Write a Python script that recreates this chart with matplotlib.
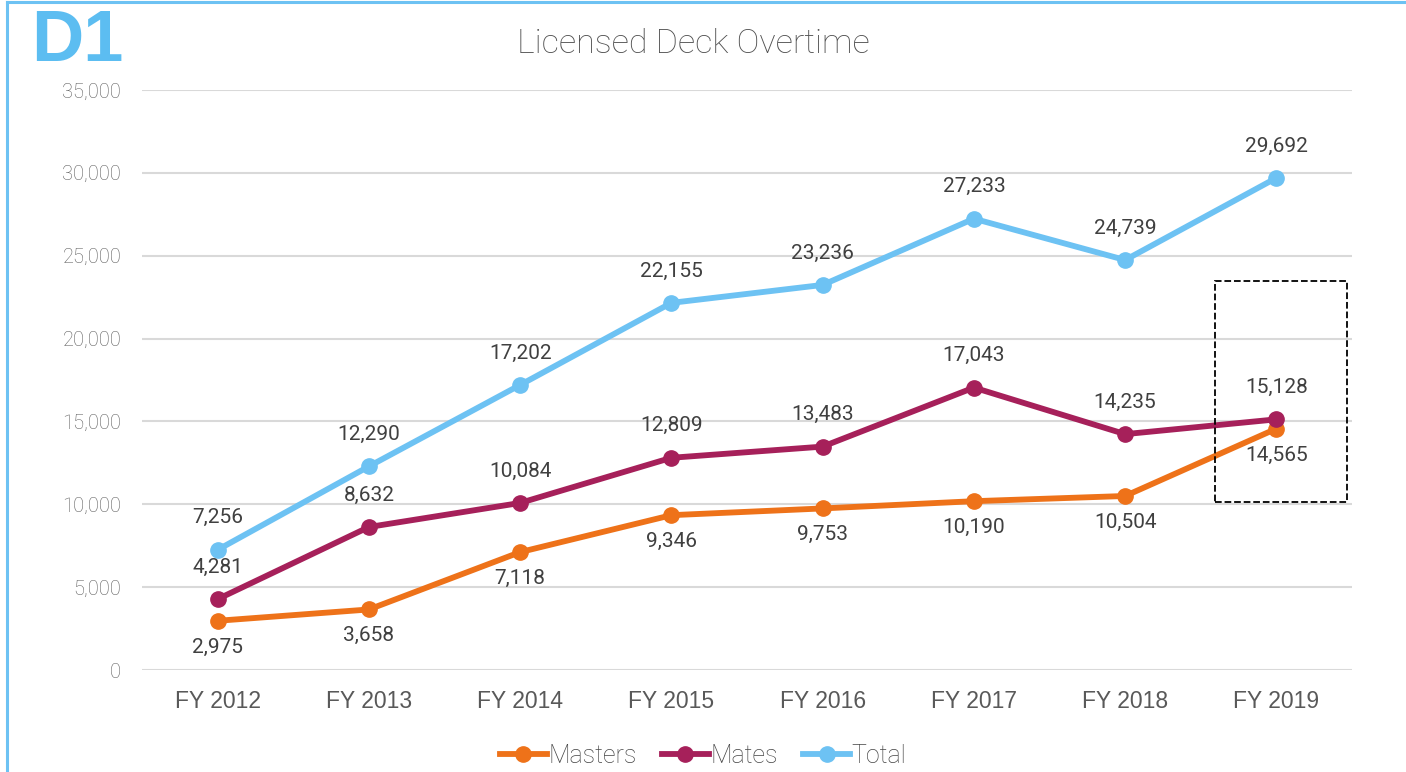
import matplotlib
matplotlib.use('Agg')
import matplotlib.pyplot as plt
from matplotlib.patches import Rectangle
from matplotlib.ticker import FuncFormatter

years = ['FY 2012', 'FY 2013', 'FY 2014', 'FY 2015', 'FY 2016', 'FY 2017', 'FY 2018', 'FY 2019']
masters = [2975, 3658, 7118, 9346, 9753, 10190, 10504, 14565]
mates = [4281, 8632, 10084, 12809, 13483, 17043, 14235, 15128]
total = [7256, 12290, 17202, 22155, 23236, 27233, 24739, 29692]

c_masters = '#EE7219'
c_mates = '#A6205A'
c_total = '#6DC2F3'
light = dict(family='Roboto', fontweight='light')

fig = plt.figure(figsize=(14.06, 7.72), dpi=100)
ax = fig.add_axes([0.101, 0.132, 0.8606, 0.7515])
x = list(range(len(years)))

# lines
for vals, col, name in [(masters, c_masters, 'Masters'), (mates, c_mates, 'Mates'), (total, c_total, 'Total')]:
    ax.plot(x, vals, color=col, lw=4.2, marker='o', ms=11, label=name, zorder=3)

# data labels
lab = dict(ha='center', va='center', fontsize=15, color='#404040', textcoords='offset points',
           family='Roboto', fontweight='normal')
for i in x:
    ax.annotate(f'{total[i]:,}', (i, total[i]), xytext=(0, 23), **lab)
    ax.annotate(f'{mates[i]:,}', (i, mates[i]), xytext=(0, 23), **lab)
    ax.annotate(f'{masters[i]:,}', (i, masters[i]), xytext=(0, -19), **lab)

# dashed box around last year
ax.add_patch(Rectangle((6.594, 10140), 0.873, 13330, fill=False, ls='--', lw=1.3,
                       edgecolor='black', zorder=4))

ax.set_xlim(-0.5, 7.5)
ax.set_ylim(0, 35000)
ax.set_yticks(range(0, 35001, 5000))
ax.yaxis.set_major_formatter(FuncFormatter(lambda v, p: f'{int(v):,}'))
ax.set_xticks(x)
ax.set_xticklabels(years, fontsize=16.5, color='#595959', family='Liberation Sans')
for t in ax.get_yticklabels():
    t.set_fontsize(14.5)
    t.set_color('#5E5E5E')
    t.set_family('Roboto')
    t.set_fontweight('light')
ax.tick_params(length=0, axis='y', pad=15)
ax.tick_params(length=0, axis='x', pad=14)
ax.grid(axis='y', color='#D9D9D9', lw=1.5)
ax.set_axisbelow(True)
for s in ax.spines.values():
    s.set_visible(False)

fig.text(0.493, 0.943, 'Licensed Deck Overtime', ha='center', va='center', fontsize=24.5,
         color='#505050', **light)
fig.text(0.022, 0.945, 'D1', ha='left', va='center', fontsize=52, fontweight='bold',
         color='#5CBDF1', family='Liberation Sans')

leg = fig.legend(loc='center', bbox_to_anchor=(0.5, 0.021), ncol=3, frameon=False,
                 prop=dict(family='Roboto', weight='light', size=18), handlelength=1.9,
                 handletextpad=0.05, columnspacing=1.0)
for t in leg.get_texts():
    t.set_color('#454545')

# frame on left and top
fig.add_artist(plt.Line2D([0.005, 0.005], [0, 0.998], color='#6DC2F3', lw=2.2, transform=fig.transFigure))
fig.add_artist(plt.Line2D([0.005, 1], [0.998, 0.998], color='#6DC2F3', lw=2.2, transform=fig.transFigure))

fig.savefig('out.png', dpi=100)
